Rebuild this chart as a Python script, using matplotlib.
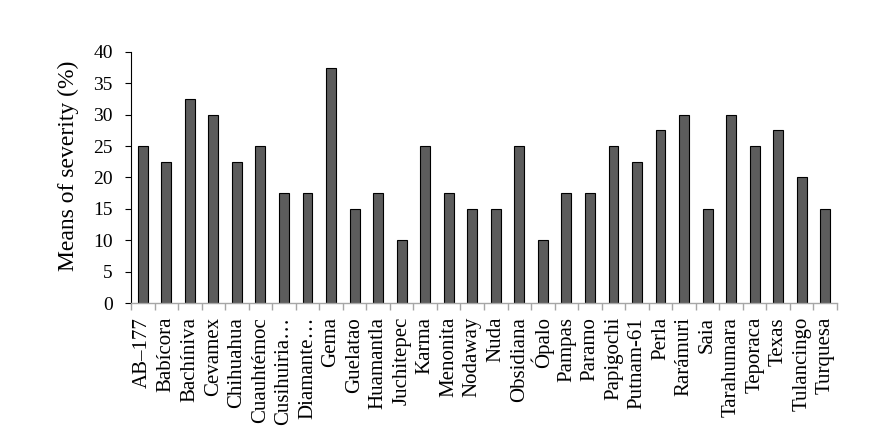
import numpy as np
import matplotlib
matplotlib.use('Agg')
import matplotlib.pyplot as plt

varieties = ['AB–177', 'Babícora', 'Bachíniva', 'Cevamex', 'Chihuahua', 'Cuauhtémoc',
             'Cusihuiria…', 'Diamante…', 'Gema', 'Guelatao', 'Huamantla', 'Juchitepec',
             'Karma', 'Menonita', 'Nodaway', 'Nuda', 'Obsidiana', 'Ópalo', 'Pampas',
             'Paramo', 'Papigochi', 'Putnam-61', 'Perla', 'Rarámuri', 'Saia',
             'Tarahumara', 'Teporaca', 'Texas', 'Tulancingo', 'Turquesa']
severity = [25, 22.5, 32.5, 30, 22.5, 25, 17.5, 17.5, 37.5, 15, 17.5, 10,
            25, 17.5, 15, 15, 25, 10, 17.5, 17.5, 25, 22.5, 27.5, 30, 15,
            30, 25, 27.5, 20, 15]
yticks = [0, 5, 10, 15, 20, 25, 30, 35, 40]

plt.rcParams['font.family'] = ['Liberation Serif', 'DejaVu Serif']

fig = plt.figure(figsize=(8.72, 4.29), dpi=100)
ax = fig.add_axes([0.1502, 0.2937, 0.8097, 0.5851])

x = np.arange(len(varieties))
ax.bar(x, severity, width=0.42, color='#5c5c5c', edgecolor='black', linewidth=0.8)

ax.set_xlim(-0.5, len(varieties) - 0.5)
ax.set_ylim(0, 40)
ax.set_yticks(yticks)
ax.tick_params(axis='y', labelsize=14, direction='out', length=4, width=0.8, pad=9)
ax.set_ylabel('Means of severity (%)', fontsize=17)
ax.yaxis.set_label_coords(-0.073, 0.546)

ax.set_xticks(x)
ax.set_xticklabels(varieties, rotation=90, fontsize=15, va='top', ha='center')
ax.tick_params(axis='x', which='major', length=0, pad=10)
ax.set_xticks(np.arange(-0.5, len(varieties) + 0.5, 1), minor=True)
ax.tick_params(axis='x', which='minor', length=5, width=1, color='#a6a6a6')

ax.spines['top'].set_visible(False)
ax.spines['right'].set_visible(False)
ax.spines['bottom'].set_color('#a6a6a6')
ax.spines['bottom'].set_linewidth(1)
ax.spines['left'].set_color('black')
ax.spines['left'].set_linewidth(0.8)

fig.savefig('out.png', dpi=100)
